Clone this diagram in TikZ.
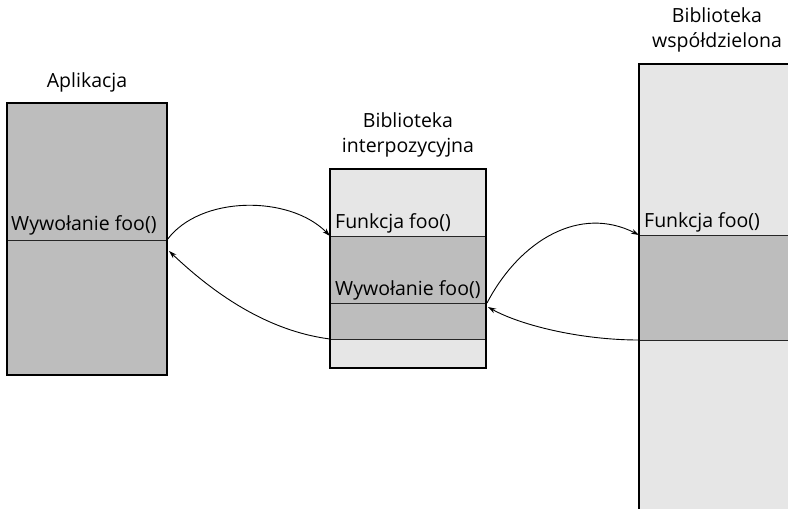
\documentclass[tikz,border=0pt]{standalone}
\usepackage{fontspec}
\setmainfont{Open Sans}
\usetikzlibrary{arrows.meta}
\definecolor{dgray}{HTML}{BDBDBD}
\definecolor{lgray}{HTML}{E6E6E6}
\tikzset{
  frame/.style={draw=black, line width=1.8pt, fill=none},
  sep/.style={draw=black!85, line width=0.9pt},
  lbl/.style={font=\fontsize{19.5}{24}\selectfont, inner sep=0pt, anchor=base west},
  ttl/.style={font=\fontsize{19.5}{24.5}\selectfont, align=center, inner sep=0pt, anchor=base},
  conn/.style={line width=0.9pt, -{Stealth[length=8pt,width=5pt]}}
}
\begin{document}
\begin{tikzpicture}[x=1pt,y=-1pt]
\clip (0,0) rectangle (788,509);
\fill[white] (0,0) rectangle (788,509);
% Left box
\fill[dgray] (7,103) rectangle (167,375);
\draw[sep] (7,240) -- (167,240);
\node[frame, minimum width=160pt, minimum height=272pt, inner sep=0pt] (app) at (87,239) {};
\node[ttl] (appt) at (87,87) {Aplikacja};
\node[lbl] (appc) at (11,230) {Wywołanie foo()};
% Middle box
\fill[lgray] (330,169) rectangle (486,368);
\fill[dgray] (330,236) rectangle (486,339);
\draw[sep] (330,236) -- (486,236);
\draw[sep] (330,303) -- (486,303);
\draw[sep] (330,339) -- (486,339);
\node[frame, minimum width=156pt, minimum height=199pt, inner sep=0pt] (mid) at (408,268.5) {};
\node[ttl] (midt) at (408,152) {Biblioteka\\interpozycyjna};
\node[lbl] (midf) at (335,228) {Funkcja foo()};
\node[lbl] (midc) at (335,295) {Wywołanie foo()};
% Right box
\fill[lgray] (639,64) rectangle (800,520);
\fill[dgray] (639,235) rectangle (800,340);
\draw[sep] (639,235) -- (800,235);
\draw[sep] (639,340) -- (800,340);
\node[frame, minimum width=161pt, minimum height=456pt, inner sep=0pt] (shr) at (719.5,292) {};
\node[ttl] (shrt) at (717,47) {Biblioteka\\współdzielona};
\node[lbl] (shrf) at (644,227) {Funkcja foo()};
% connector points
\coordinate (a1) at (167,240);
\coordinate (m1) at (330,236);
\coordinate (m2) at (330,339);
\coordinate (a2) at (169,251);
\coordinate (m3) at (487,303);
\coordinate (s1) at (639,235);
\coordinate (s2) at (639,340);
\coordinate (m4) at (488,307);
\draw[conn] (a1) .. controls (200,195) and (290,195) .. (m1);
\draw[conn] (m2) .. controls (260,330) and (205,285) .. (a2);
\draw[conn] (m3) .. controls (520,240) and (580,205) .. (s1);
\draw[conn] (s2) .. controls (580,340) and (520,325) .. (m4);
\end{tikzpicture}
\end{document}
